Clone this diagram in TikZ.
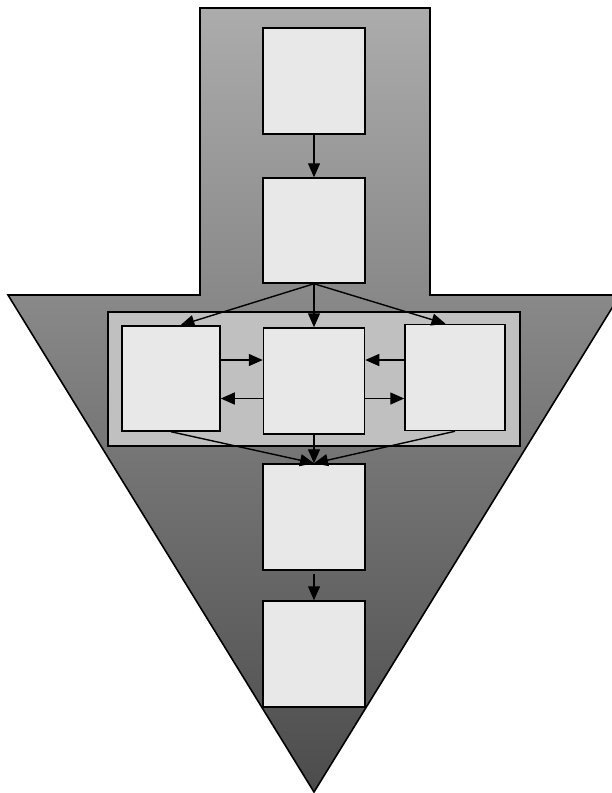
\documentclass[tikz,border=0pt]{standalone}
\usetikzlibrary{arrows.meta,calc}

\definecolor{stagetop}{RGB}{172,172,172}
\definecolor{stagemid}{RGB}{140,140,140}
\definecolor{stagebot}{RGB}{76,76,76}
\definecolor{panelgray}{RGB}{192,192,192}
\definecolor{boxgray}{RGB}{232,232,232}

\tikzset{
    stepbox/.style={draw=black, fill=boxgray, line width=1.5pt, inner sep=0pt,
        minimum width=102pt, minimum height=106pt},
    flow/.style={-{Triangle[length=14pt,width=12pt]}, line width=1.4pt},
}

\begin{document}
\begin{tikzpicture}[x=1pt, y=-1pt]
        \useasboundingbox (0,0) rectangle (612,793);

        % ===== big arrow shape =====
        \def\xM{314}
        \shade[top color=stagetop, middle color=stagemid, bottom color=stagebot,
               draw=black, line width=1.6pt]
            (200,8) -- (430,8) -- (430,295) -- (620,295) -- (\xM,792)
            -- (8,295) -- (200,295) -- cycle;

        % ===== inner panel =====
        \node[draw=black, fill=panelgray, line width=1.3pt, minimum width=412pt,
              minimum height=134pt] (panel) at (\xM,379) {};

        % ===== step boxes =====
        \node[stepbox] (first) at (\xM,81) {};
        \node[stepbox, minimum height=105pt] (second) at (\xM,230.5) {};
        \node[stepbox, minimum width=98pt, minimum height=105pt] (left) at (171,378.5) {};
        \node[stepbox, minimum width=101pt] (center) at (\xM,381) {};
        \node[stepbox, minimum width=100pt] (right) at (455,377.5) {};
        \node[stepbox] (fourth) at (\xM,517) {};
        \node[stepbox] (fifth) at (\xM,654) {};

        % ===== connectors =====
        \draw[flow] (first) -- (second);
        \draw[flow] (second.south) -- (left.80);
        \draw[flow] (second.south) -- (center.north);
        \draw[flow] (second.south) -- (right.100);

        \coordinate (lup) at ([yshift=18.5pt]left.east);
        \coordinate (llo) at ([yshift=-20pt]left.east);
        \coordinate (rup) at ([yshift=17.5pt]right.west);
        \coordinate (rlo) at ([yshift=-21pt]right.west);
        \draw[flow] (lup) -- (lup -| center.west);
        \draw[flow] (llo -| center.west) -- (llo);
        \draw[flow] (rup) -- (rup -| center.east);
        \draw[flow] (rlo -| center.east) -- (rlo);

        \draw[flow] (left.south) -- (fourth.north);
        \draw[flow] (center.south) -- (fourth.north);
        \draw[flow] (right.south) -- (fourth.north);
        \draw[flow, shorten <=3pt] (fourth) -- (fifth);
\end{tikzpicture}
\end{document}
